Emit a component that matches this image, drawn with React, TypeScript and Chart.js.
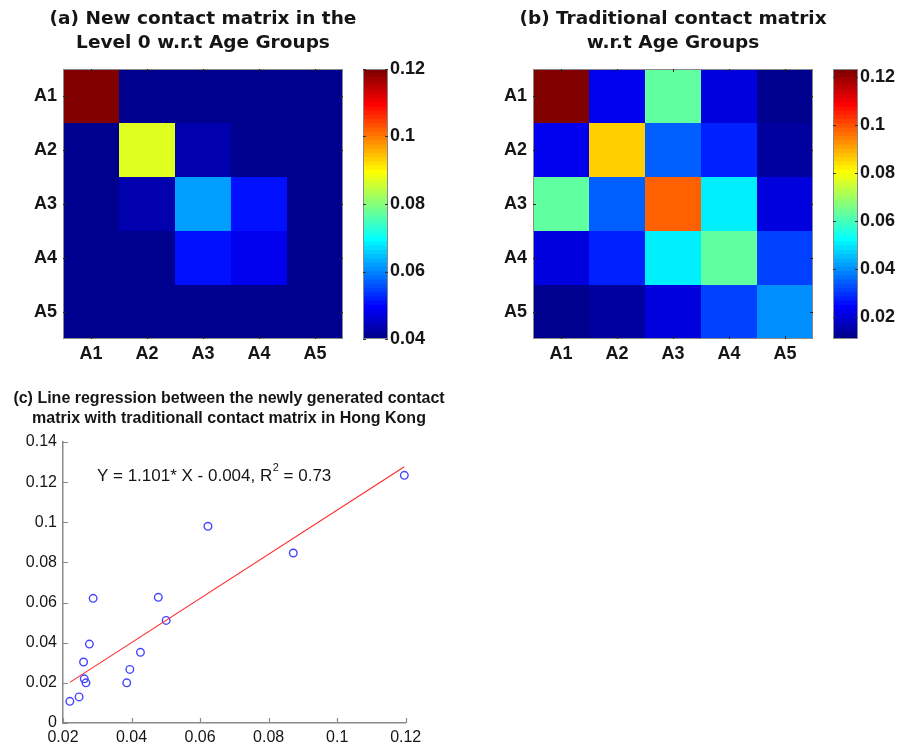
import React, { useEffect, useRef } from "react";
import { Chart, registerables } from "chart.js";

Chart.register(...registerables);

// ---------------- data ----------------
const ageGroups = ["A1", "A2", "A3", "A4", "A5"];

// (a) new contact matrix, level 0
const newMatrix = [
  [0.1196, 0.0262, 0.0288, 0.0267, 0.022],
  [0.0262, 0.0872, 0.0426, 0.0395, 0.0247],
  [0.0288, 0.0426, 0.0623, 0.0501, 0.0386],
  [0.0267, 0.0395, 0.0501, 0.0478, 0.026],
  [0.022, 0.0247, 0.0386, 0.026, 0.0277],
];

// (b) traditional contact matrix
const traditionalMatrix = [
  [0.1234, 0.022, 0.0621, 0.02, 0.0108],
  [0.022, 0.0847, 0.0352, 0.0267, 0.013],
  [0.0621, 0.0352, 0.098, 0.0511, 0.02],
  [0.02, 0.0267, 0.0511, 0.0626, 0.0304],
  [0.0108, 0.013, 0.02, 0.0304, 0.0393],
];

const colorRangeNew = [0.04, 0.12];
const colorRangeTraditional = [0.0108, 0.1234];
const colorbarTicksNew = [0.04, 0.06, 0.08, 0.1, 0.12];
const colorbarTicksTraditional = [0.02, 0.04, 0.06, 0.08, 0.1, 0.12];

const scatterXTicks = [0.02, 0.04, 0.06, 0.08, 0.1, 0.12];
const scatterYTicks = [0, 0.02, 0.04, 0.06, 0.08, 0.1, 0.12, 0.14];
const scatterXRange = [0.02, 0.12];
const scatterYRange = [0, 0.14];

const regressionSlope = 1.101;
const regressionIntercept = -0.004;
const regressionR2 = 0.73;
const annotationAt = { x: 0.0299, y: 0.123 };

const titleA = ["(a) New contact matrix in the", "Level 0 w.r.t Age Groups"];
const titleB = ["(b) Traditional contact matrix", "w.r.t Age Groups"];
const titleC = [
  "(c) Line regression between the newly generated contact",
  "matrix with traditionall contact matrix in Hong Kong",
];

// ---------------- helpers ----------------
const SANS = "'Liberation Sans', Arial, Helvetica, sans-serif";
const TEXT = "#151515";
const PLOT_TOP = 69;
const PLOT_BOTTOM = 339;
const HEAT_LEFT = 63; // width of the category axis in each heatmap canvas
const HEAT_W = 280;

// MATLAB jet(64)
function jetMap(m = 64): number[][] {
  const n = Math.ceil(m / 4);
  const u: number[] = [];
  for (let i = 1; i <= n; i++) u.push(i / n);
  for (let i = 0; i < n - 1; i++) u.push(1);
  for (let i = n; i >= 1; i--) u.push(i / n);
  const gStart = Math.ceil(n / 2) - (m % 4 === 1 ? 1 : 0);
  const J = Array.from({ length: m }, () => [0, 0, 0]);
  for (let k = 1; k <= u.length; k++) {
    const g = gStart + k;
    const r = g + n;
    const b = g - n;
    if (r >= 1 && r <= m) J[r - 1][0] = u[k - 1];
    if (g >= 1 && g <= m) J[g - 1][1] = u[k - 1];
    if (b >= 1 && b <= m) J[b - 1][2] = u[k - 1];
  }
  return J;
}
const JET = jetMap(64);
const rgb = (c: number[]) =>
  `rgb(${Math.round(c[0] * 255)},${Math.round(c[1] * 255)},${Math.round(c[2] * 255)})`;
function colorFor(v: number, range: number[]) {
  let idx = Math.floor(((v - range[0]) / (range[1] - range[0])) * JET.length);
  idx = Math.max(0, Math.min(JET.length - 1, idx));
  return rgb(JET[idx]);
}
const fmt = (v: number) => String(parseFloat(Number(v).toFixed(4)));

// invisible right-hand axis that only reserves space (keeps full-width titles centred)
const spacerAxis = (w: number) => ({
  type: "linear",
  axis: "y",
  position: "right",
  display: true,
  grid: { display: false, drawTicks: false },
  border: { display: false },
  ticks: { display: false },
  afterFit: (s: any) => {
    s.width = w;
  },
});

const framePlugin = {
  id: "frame",
  afterDatasetsDraw(chart: any, _args: any, opts: any) {
    const { ctx, chartArea: a } = chart;
    ctx.save();
    ctx.lineWidth = 1;
    ctx.strokeStyle = opts.color || "#888";
    ctx.strokeRect(a.left + 0.5, a.top + 0.5, a.width - 1, a.height - 1);
    const len = opts.tick || 3;
    ctx.strokeStyle = opts.tickColor || "#333";
    ctx.beginPath();
    if (opts.xTicks) {
      const xs = chart.scales.x;
      xs.ticks.forEach((_t: any, i: number) => {
        const px = Math.round(xs.getPixelForTick(i)) + 0.5;
        ctx.moveTo(px, a.top);
        ctx.lineTo(px, a.top + len);
        ctx.moveTo(px, a.bottom);
        ctx.lineTo(px, a.bottom - len);
      });
    }
    const ys = chart.scales.y;
    ys.ticks.forEach((t: any) => {
      const py = Math.round(ys.getPixelForValue(t.value)) + 0.5;
      ctx.moveTo(a.left, py);
      ctx.lineTo(a.left + len, py);
      ctx.moveTo(a.right, py);
      ctx.lineTo(a.right - len, py);
    });
    ctx.stroke();
    ctx.restore();
  },
};

function heatmapConfig(matrix: number[][], range: number[], title: string[], width: number, height: number): any {
  const datasets = matrix.map((row, r) => ({
    data: row.map(() => [r + 0.5, r + 1.5]),
    backgroundColor: row.map((v) => colorFor(v, range)),
    borderWidth: 0,
    inflateAmount: 0,
    barPercentage: 1,
    categoryPercentage: 1,
    grouped: false,
    xAxisID: "x",
    yAxisID: "y",
  }));
  const tickFont = { family: SANS, size: 18, weight: "bold" as const };
  return {
    type: "bar",
    data: { labels: ageGroups, datasets },
    options: {
      responsive: false,
      animation: false,
      events: [],
      layout: { padding: 0 },
      plugins: {
        legend: { display: false },
        tooltip: { enabled: false },
        title: {
          display: true,
          text: title,
          color: TEXT,
          font: { family: "'DejaVu Sans', sans-serif", size: 18.5, weight: "bold", lineHeight: 24 / 18.5 },
          padding: { top: 7, bottom: PLOT_TOP - 7 - 48 },
        },
        frame: { color: "#8a8a8a", tickColor: "#222", tick: 3, xTicks: true },
      },
      scales: {
        x: {
          type: "category",
          offset: true,
          grid: { display: false, drawTicks: false },
          border: { display: false },
          ticks: { font: tickFont, color: TEXT, padding: 4 },
          afterFit: (s: any) => {
            s.height = height - PLOT_BOTTOM;
          },
        },
        y: {
          type: "linear",
          reverse: true,
          min: 0.5,
          max: ageGroups.length + 0.5,
          grid: { display: false, drawTicks: false },
          border: { display: false },
          afterBuildTicks: (s: any) => {
            s.ticks = ageGroups.map((_g, i) => ({ value: i + 1 }));
          },
          ticks: {
            font: tickFont,
            color: TEXT,
            padding: 6,
            callback: (v: any) => ageGroups[Math.round(v) - 1],
          },
          afterFit: (s: any) => {
            s.width = HEAT_LEFT;
          },
        },
        pad: spacerAxis(width - HEAT_LEFT - HEAT_W),
      },
    },
    plugins: [framePlugin],
  };
}

function colorbarConfig(range: number[], ticks: number[], width: number, height: number): any {
  const step = (range[1] - range[0]) / JET.length;
  const datasets = JET.map((c, k) => ({
    data: [[range[0] + k * step, range[0] + (k + 1) * step]],
    backgroundColor: rgb(c),
    borderWidth: 0,
    inflateAmount: 0.5,
    barPercentage: 1,
    categoryPercentage: 1,
    grouped: false,
  }));
  return {
    type: "bar",
    data: { labels: [""], datasets },
    options: {
      responsive: false,
      animation: false,
      events: [],
      layout: { padding: { left: 23, right: 0, top: PLOT_TOP, bottom: height - PLOT_BOTTOM } },
      plugins: {
        legend: { display: false },
        tooltip: { enabled: false },
        title: { display: false },
        frame: { color: "#8a8a8a", tickColor: "#333", tick: 3, xTicks: false },
      },
      scales: {
        x: { display: false, offset: true },
        y: {
          type: "linear",
          position: "right",
          min: range[0],
          max: range[1],
          grid: { display: false, drawTicks: false },
          border: { display: false },
          afterBuildTicks: (s: any) => {
            s.ticks = ticks.map((v) => ({ value: v }));
          },
          ticks: {
            font: { family: SANS, size: 18, weight: "bold" },
            color: TEXT,
            padding: 2,
            callback: (v: any) => fmt(v),
          },
          afterFit: (s: any) => {
            s.width = width - 23 - 25;
          },
        },
      },
    },
    plugins: [framePlugin],
  };
}

const innerTicksPlugin = {
  id: "innerTicks",
  afterDatasetsDraw(chart: any) {
    const { ctx, chartArea: a, scales } = chart;
    ctx.save();
    ctx.strokeStyle = "#8a8a8a";
    ctx.lineWidth = 1.2;
    ctx.beginPath();
    scales.x.ticks.forEach((t: any) => {
      const px = Math.round(scales.x.getPixelForValue(t.value)) + 0.5;
      ctx.moveTo(px, a.bottom);
      ctx.lineTo(px, a.bottom - 5);
    });
    scales.y.ticks.forEach((t: any) => {
      const py = Math.round(scales.y.getPixelForValue(t.value)) + 0.5;
      ctx.moveTo(a.left, py);
      ctx.lineTo(a.left + 5, py);
    });
    ctx.stroke();
    ctx.restore();
  },
};

const annotationPlugin = {
  id: "regressionText",
  afterDatasetsDraw(chart: any) {
    const { ctx, scales } = chart;
    const x0 = scales.x.getPixelForValue(annotationAt.x);
    const y0 = scales.y.getPixelForValue(annotationAt.y);
    const sign = regressionIntercept < 0 ? "-" : "+";
    const part1 = `Y = ${regressionSlope}* X ${sign} ${Math.abs(regressionIntercept).toFixed(3)}, R`;
    const part2 = "2";
    const part3 = ` = ${regressionR2}`;
    ctx.save();
    ctx.fillStyle = TEXT;
    ctx.textBaseline = "middle";
    ctx.textAlign = "left";
    ctx.font = `17px ${SANS}`;
    ctx.fillText(part1, x0, y0);
    let x = x0 + ctx.measureText(part1).width;
    ctx.font = `11px ${SANS}`;
    ctx.fillText(part2, x + 0.5, y0 - 8);
    x += ctx.measureText(part2).width + 0.5;
    ctx.font = `17px ${SANS}`;
    ctx.fillText(part3, x, y0);
    ctx.restore();
  },
};

function scatterConfig(width: number, height: number): any {
  const points: { x: number; y: number }[] = [];
  for (let i = 0; i < newMatrix.length; i++) {
    for (let j = i; j < newMatrix.length; j++) {
      points.push({ x: newMatrix[i][j], y: traditionalMatrix[i][j] });
    }
  }
  const xs = points.map((p) => p.x);
  const xMin = Math.min(...xs);
  const xMax = Math.max(...xs);
  const line = [xMin, xMax].map((x) => ({ x, y: regressionSlope * x + regressionIntercept }));
  const tickFont = { family: SANS, size: 16 };
  const plotRight = 405.7;
  return {
    type: "scatter",
    data: {
      datasets: [
        {
          type: "line",
          data: line,
          borderColor: "#ff2a2a",
          borderWidth: 1.1,
          pointRadius: 0,
          showLine: true,
          fill: false,
          clip: 10,
          xAxisID: "x",
          yAxisID: "y",
        },
        {
          data: points,
          borderColor: "#4545ff",
          backgroundColor: "rgba(0,0,0,0)",
          borderWidth: 1.4,
          pointRadius: 3.8,
          clip: 10,
          xAxisID: "x",
          yAxisID: "y",
        },
      ],
    },
    options: {
      responsive: false,
      animation: false,
      events: [],
      layout: { padding: 0 },
      plugins: {
        legend: { display: false },
        tooltip: { enabled: false },
        title: {
          display: true,
          text: titleC,
          color: TEXT,
          font: { family: SANS, size: 16, weight: "bold", lineHeight: 1.25 },
          padding: { top: 9, bottom: 13 },
        },
      },
      scales: {
        x: {
          type: "linear",
          min: scatterXRange[0],
          max: scatterXRange[1],
          grid: { display: false, drawTicks: false },
          border: { display: true, color: "#8a8a8a", width: 1.5 },
          afterBuildTicks: (s: any) => {
            s.ticks = scatterXTicks.map((v) => ({ value: v }));
          },
          ticks: { font: tickFont, color: TEXT, padding: 5, maxRotation: 0, callback: (v: any) => fmt(v) },
          afterFit: (s: any) => {
            s.height = height - 343;
          },
        },
        y: {
          type: "linear",
          min: scatterYRange[0],
          max: scatterYRange[1],
          grid: { display: false, drawTicks: false },
          border: { display: true, color: "#8a8a8a", width: 1.5 },
          afterBuildTicks: (s: any) => {
            s.ticks = scatterYTicks.map((v) => ({ value: v }));
          },
          ticks: { font: tickFont, color: TEXT, padding: 6, callback: (v: any) => fmt(v) },
          afterFit: (s: any) => {
            s.width = 63;
          },
        },
        pad: spacerAxis(width - plotRight),
      },
    },
    plugins: [innerTicksPlugin, annotationPlugin],
  };
}

// ---------------- components ----------------
function ChartBox(props: { left: number; top: number; width: number; height: number; make: () => any }) {
  const ref = useRef<HTMLCanvasElement>(null);
  useEffect(() => {
    const chart = new Chart(ref.current as HTMLCanvasElement, props.make());
    return () => chart.destroy();
  }, []);
  return (
    <canvas
      ref={ref}
      width={props.width}
      height={props.height}
      style={{ position: "absolute", left: props.left, top: props.top, width: props.width, height: props.height }}
    />
  );
}

export default function App() {
  const H = 372;
  const HW = 406;
  return (
    <div style={{ position: "absolute", left: 0, top: 0, width: 907, height: 746, background: "#fff", overflow: "hidden" }}>
      <ChartBox left={0} top={0} width={HW} height={H} make={() => heatmapConfig(newMatrix, colorRangeNew, titleA, HW, H)} />
      <ChartBox left={340} top={0} width={110} height={H} make={() => colorbarConfig(colorRangeNew, colorbarTicksNew, 110, H)} />
      <ChartBox left={470} top={0} width={HW} height={H} make={() => heatmapConfig(traditionalMatrix, colorRangeTraditional, titleB, HW, H)} />
      <ChartBox left={810} top={0} width={97} height={H} make={() => colorbarConfig(colorRangeTraditional, colorbarTicksTraditional, 97, H)} />
      <ChartBox left={0} top={380} width={458} height={366} make={() => scatterConfig(458, 366)} />
    </div>
  );
}
